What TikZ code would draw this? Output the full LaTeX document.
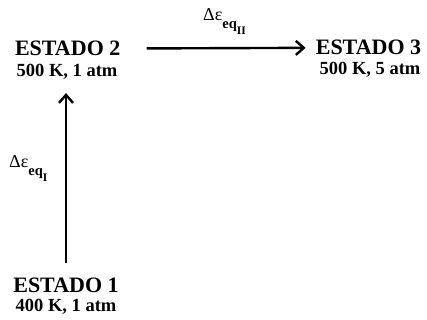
\documentclass[tikz,border=0pt]{standalone}
\usepackage{fontspec}
\setmainfont{Liberation Serif}
\usetikzlibrary{arrows.meta}
\begin{document}
\begin{tikzpicture}[x=1pt,y=1pt,
  title/.style={font=\fontsize{22}{24}\selectfont\bfseries, anchor=base, inner sep=1pt},
  sub/.style={font=\fontsize{18.5}{20}\selectfont\bfseries, anchor=base, inner sep=0.5pt},
  conn/.style={line width=2.4pt, -{Straight Barb[length=8pt,width=14pt,line width=2.4pt]}},
  lbl/.style={anchor=base west, inner sep=0pt}]
\useasboundingbox (0,0) rectangle (427,320);
\node[title] (e2) at (67.7,264.3) {ESTADO 2};
\node[sub] (e2s) at (67,243) {500 K, 1 atm};
\node[title] (e3) at (368.5,265) {ESTADO 3};
\node[sub] (e3s) at (370,245) {500 K, 5 atm};
\node[title] (e1) at (66,27) {ESTADO 1};
\node[sub] (e1s) at (66,8.5) {400 K, 1 atm};
\node[lbl] (l2) at (203,299) {\fontsize{18}{18}\selectfont Δε\raisebox{-7.5pt}{\fontsize{14.5}{14.5}\selectfont\bfseries eq\raisebox{-6pt}{\fontsize{11.5}{11.5}\selectfont II}}};
\node[lbl] (l1) at (9,152) {\fontsize{18}{18}\selectfont Δε\raisebox{-7.5pt}{\fontsize{14.5}{14.5}\selectfont\bfseries eq\raisebox{-6pt}{\fontsize{11.5}{11.5}\selectfont I}}};
\draw[conn, shorten <=25pt, shorten >=9pt] (e2.east) -- (e3.west);
\draw[conn, shorten <=14.5pt, shorten >=12.5pt] (e1.north) -- (e1.north |- e2s.south);
\end{tikzpicture}
\end{document}
